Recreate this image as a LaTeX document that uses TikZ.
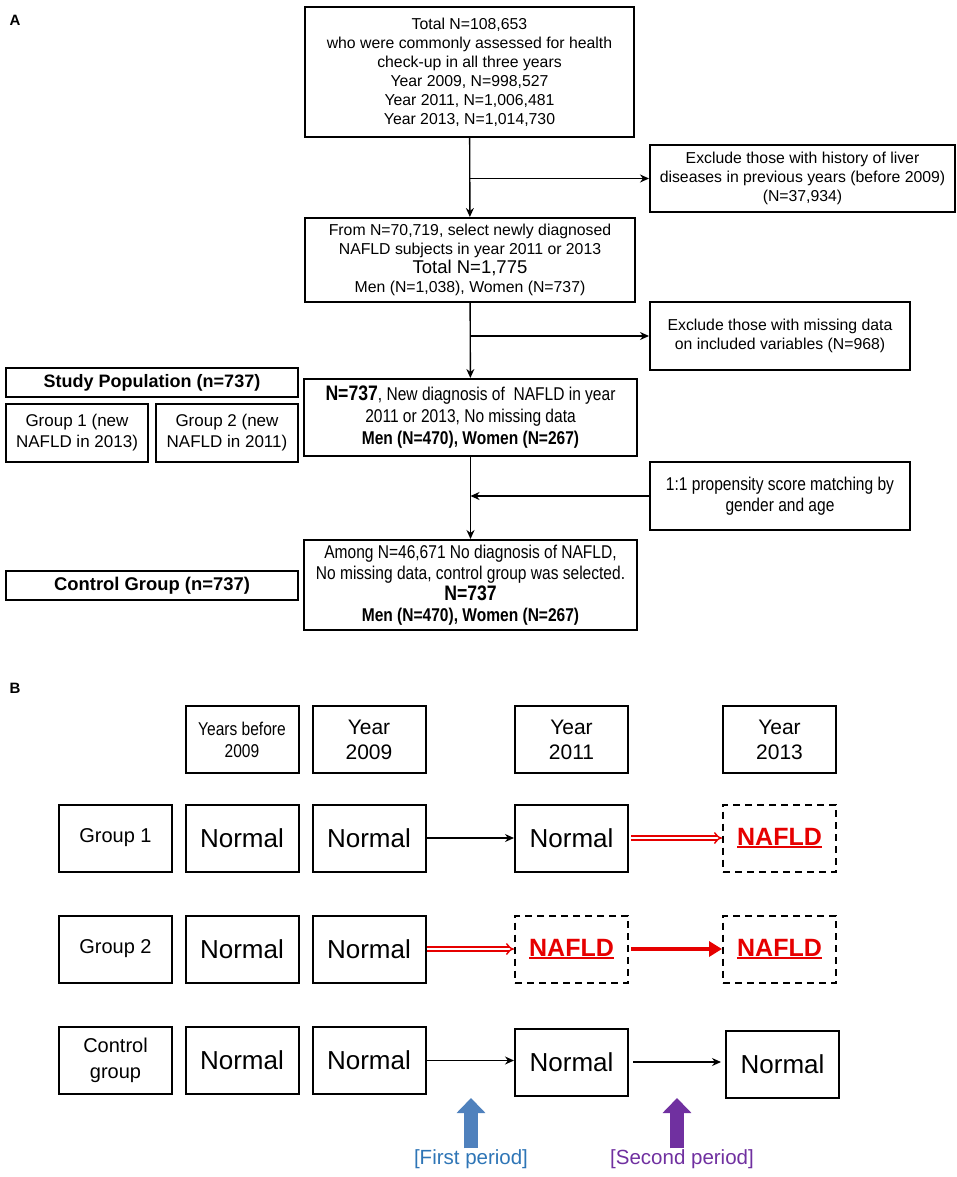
\documentclass[tikz,border=0pt]{standalone}
\usepackage{fontspec}
\setmainfont{Liberation Sans}
\newfontfamily\narrowsf[FakeStretch=0.84]{Liberation Sans}
\usetikzlibrary{arrows.meta}
\definecolor{nafldred}{RGB}{230,0,0}
\definecolor{periodblue}{RGB}{79,129,189}
\definecolor{periodtext}{RGB}{46,117,182}
\definecolor{periodpurple}{RGB}{112,48,160}
\newcommand{\fs}[2]{\fontsize{#1}{#2}\selectfont}
\newcommand{\ulred}[1]{\sbox0{#1}\usebox0\llap{\rule[-3pt]{\wd0}{1.8pt}}}
\begin{document}
\begin{tikzpicture}[x=1pt,y=-1pt,>={Stealth[length=9pt,width=8pt]},
	box/.style={draw, line width=2pt, align=center, inner sep=1pt, font=\fs{15.8}{19}},
	nbox/.style={box, font=\narrowsf\fs{18.5}{21}},
	tbox/.style={draw, line width=2pt, align=center, inner sep=1pt, minimum width=113pt, minimum height=67pt},
	normal/.style={tbox, font=\fs{26}{30}},
	dbox/.style={tbox, dash pattern=on 7pt off 5pt, text=nafldred, font=\bfseries\fs{25}{28}},
	conn/.style={line width=1.4pt},
	redtwin/.style={draw=nafldred, double=white, double distance=2.5pt, line width=1.4pt, -{Implies[scale=1.3]}},
	redthick/.style={nafldred, line width=4pt, -{Triangle[length=13pt,width=15pt]}},
	bigup/.style={line width=14pt, -{Triangle[width=28pt,length=15pt]}}]
	\useasboundingbox (0,0) rectangle (957,1177);

	% panel A
	\node[font=\bfseries\fs{15}{18}] (panela) at (15,20) {A};
	\node[box, minimum width=329pt, minimum height=130pt] (total) at (469.5,72) {Total N=108,653\\who were commonly assessed for health\\check-up in all three years\\Year 2009, N=998,527\\Year 2011, N=1,006,481\\Year 2013, N=1,014,730};
	\node[box, minimum width=305pt, minimum height=67pt] (excl1) at (802.5,178.5) {Exclude those with history of liver\\diseases in previous years (before 2009)\\(N=37,934)};
	\node[box, minimum width=330pt, minimum height=84pt] (select) at (470,260) {From N=70,719, select newly diagnosed\\NAFLD subjects in year 2011 or 2013\\{\fs{18.5}{20}Total N=1,775}\\Men (N=1,038), Women (N=737)};
	\node[box, minimum width=260pt, minimum height=68pt] (excl2) at (780,336) {Exclude those with missing data\\on included variables (N=968)};
	\node[nbox, minimum width=333pt, minimum height=77pt, font=\narrowsf\fs{18.5}{22}] (newdx) at (470.5,417.5) {{\bfseries\fs{21}{22}N=737}, New diagnosis of\ \ NAFLD in year\\2011 or 2013, No missing data\\\textbf{Men (N=470), Women (N=267)}};
	\node[box, minimum width=292pt, minimum height=29pt, font=\bfseries\fs{18}{20}] (studypop) at (152,382.5) {Study Population (n=737)};
	\node[box, minimum width=142pt, minimum height=58pt, font=\fs{17}{21}] (grpone) at (77,433) {Group 1 (new\\NAFLD in 2013)};
	\node[box, minimum width=142pt, minimum height=58pt, font=\fs{17}{21}] (grptwo) at (227,433) {Group 2 (new\\NAFLD in 2011)};
	\node[nbox, minimum width=260pt, minimum height=68pt] (propensity) at (780,496) {1:1 propensity score matching by\\gender and age};
	\node[nbox, minimum width=333pt, minimum height=90pt] (ctrlsel) at (470.5,585) {Among N=46,671 No diagnosis of NAFLD,\\No missing data, control group was selected.\\{\bfseries\fs{21}{22}N=737}\\\textbf{Men (N=470), Women (N=267)}};
	\node[box, minimum width=292pt, minimum height=29pt, font=\bfseries\fs{18.4}{20}] (ctrlgrp) at (152,585.5) {Control Group (n=737)};

	\draw[conn, ->] (total) -- (select);
	\draw[conn, ->] (total.south |- excl1.west) -- (excl1.west);
	\draw[conn, ->] (select) -- (newdx);
	\draw[conn, ->] (select.south |- excl2.west) -- (excl2.west);
	\draw[conn, ->] (newdx) -- (ctrlsel);
	\draw[conn, ->] (propensity.west) -- (propensity.west -| newdx.south);

	% panel B
	\node[font=\bfseries\fs{15}{18}] (panelb) at (15,688) {B};
	\node[tbox, font=\narrowsf\fs{18.5}{22}] (hbefore) at (242,739.5) {Years before\\2009};
	\node[tbox, font=\fs{21}{25}] (h2009) at (369,739.5) {Year\\2009};
	\node[tbox, font=\fs{21}{25}] (h2011) at (571.5,739.5) {Year\\2011};
	\node[tbox, font=\fs{21}{25}] (h2013) at (779.5,739.5) {Year\\2013};

	\node[tbox, font=\fs{20}{26}] (gone) at (115.5,838) {Group 1};
	\node[normal] (n11) at (242,838) {Normal};
	\node[normal] (n12) at (369,838) {Normal};
	\node[normal] (n13) at (571.5,838) {Normal};
	\node[dbox] (d14) at (779.5,838) {\ulred{NAFLD}};

	\node[tbox, font=\fs{20}{26}] (gtwo) at (115.5,949) {Group 2};
	\node[normal] (n21) at (242,949) {Normal};
	\node[normal] (n22) at (369,949) {Normal};
	\node[dbox] (d23) at (571.5,949) {\ulred{NAFLD}};
	\node[dbox] (d24) at (779.5,949) {\ulred{NAFLD}};

	\node[tbox, font=\fs{20}{26}] (gctrl) at (115.5,1060.5) {Control\\group};
	\node[normal] (n31) at (242,1060.5) {Normal};
	\node[normal] (n32) at (369,1060.5) {Normal};
	\node[normal] (n33) at (571.5,1062) {Normal};
	\node[normal] (n34) at (782.5,1064) {Normal};

	\draw[conn, ->] (n12) -- (n13);
	\draw[redtwin, shorten <=2pt] (n13) -- (d14);
	\draw[redtwin] (n22) -- (d23);
	\draw[redthick, shorten <=2pt] (d23) -- (d24);
	\draw[conn, ->] (n32.east) -- (n32.east -| n33.west);
	\draw[conn, ->, shorten <=4pt, shorten >=4pt] (n33.east) -- (n33.east -| n34.west);

	% periods
	\node[text=periodtext, font=\fs{20.5}{24}, inner sep=1pt] (firstlbl) at (471,1159) {[First period]};
	\node[text=periodpurple, font=\fs{20.5}{24}, inner sep=1pt] (secondlbl) at (682,1159) {[Second period]};
	\coordinate (firsttip) at (471,1098);
	\coordinate (secondtip) at (677,1098);
	\draw[bigup, periodblue] (firstlbl.north) -- (firsttip);
	\draw[bigup, periodpurple] (secondlbl.north -| secondtip) -- (secondtip);
\end{tikzpicture}
\end{document}
